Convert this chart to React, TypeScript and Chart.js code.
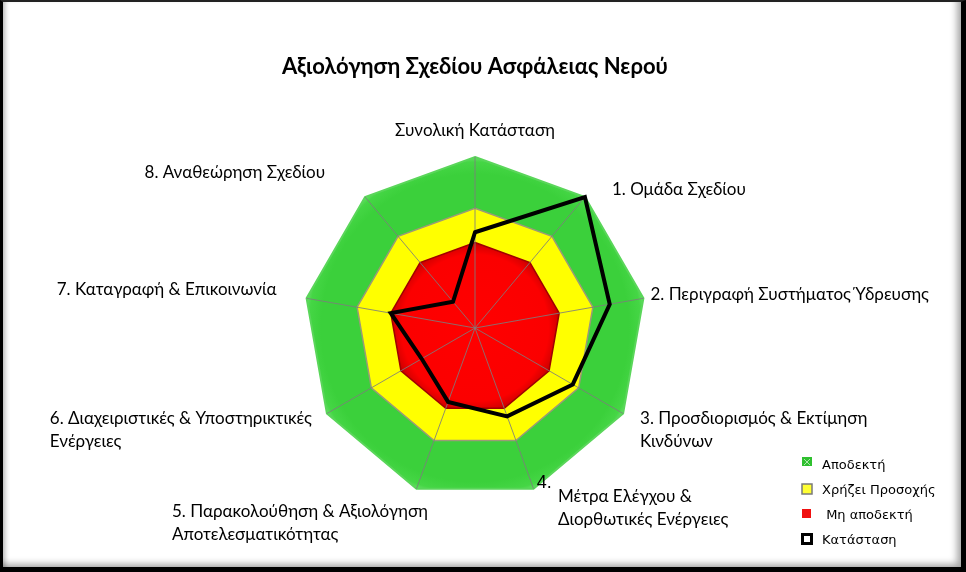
import React, { useEffect, useRef } from "react";
import { Chart, registerables } from "chart.js";

Chart.register(...registerables);

// ---------- data ----------
const chartTitle = "Αξιολόγηση Σχεδίου Ασφάλειας Νερού";
const axisLabels: string[][] = [
  ["Συνολική Κατάσταση"],
  ["1. Ομάδα Σχεδίου"],
  ["2. Περιγραφή Συστήματος Ύδρευσης"],
  ["3. Προσδιορισμός & Εκτίμηση", "Κινδύνων"],
  ["4. Μέτρα Ελέγχου &", "Διορθωτικές Ενέργειες"],
  ["5. Παρακολούθηση & Αξιολόγηση", "Αποτελεσματικότητας"],
  ["6. Διαχειριστικές & Υποστηρικτικές", "Ενέργειες"],
  ["7. Καταγραφή & Επικοινωνία"],
  ["8. Αναθεώρηση Σχεδίου"],
];
const seriesNames = ["Αποδεκτή", "Χρήζει Προσοχής", " Μη αποδεκτή", "Κατάσταση"];
const acceptable = [100, 100, 100, 100, 100, 100, 100, 100, 100];
const attention = [70, 70, 70, 70, 70, 70, 70, 70, 70];
const unacceptable = [50, 50, 50, 50, 50, 50, 50, 50, 50];
const status = [56, 100, 80, 66, 55, 46, 36, 50, 20];
const scaleMin = 0;
const scaleMax = 100;

// ---------- styling / layout (not data) ----------
const GREEN = "#3bd03b";
const YELLOW = "#ffff00";
const RED = "#ff0000";
const labelFont = "17px Lato, 'Open Sans', sans-serif";
const labelLineH = 22.5;
type Lay = { dx: number; dy: number; align: "center" | "left" | "right"; lead?: { dx: number; dy: number; font: string } };
const labelLayout: Lay[] = [
  { dx: 0, dy: -26, align: "center" },
  { dx: 27, dy: -7, align: "left" },
  { dx: 7, dy: -4, align: "left" },
  { dx: 17, dy: 5.5, align: "left" },
  { dx: 24.5, dy: 8, align: "left", lead: { dx: 3.2, dy: -6, font: "18px 'Liberation Sans', Arial, sans-serif" } },
  { dx: 11.5, dy: 23.3, align: "right" },
  { dx: -15, dy: 5.5, align: "right" },
  { dx: -30, dy: -9, align: "right" },
  { dx: -40, dy: -24, align: "right" },
];

function radialFill(stops: [number, string][], value: number, fallback: string) {
  return (c: any) => {
    const chart = c.chart;
    const scale = chart.scales && chart.scales.r;
    if (!chart.chartArea || !scale) return fallback;
    const R = scale.getDistanceFromCenterForValue(value);
    if (!(R > 0)) return fallback;
    const g = chart.ctx.createRadialGradient(scale.xCenter, scale.yCenter, 0, scale.xCenter, scale.yCenter, R);
    stops.forEach(([o, col]) => g.addColorStop(o, col));
    return g;
  };
}

const angleLinePlugin = {
  id: "angleLinesOver",
  beforeDatasetDraw(chart: any, args: any) {
    if (args.index !== 3) return;
    const scale = chart.scales.r;
    const ctx = chart.ctx;
    const R = scale.getDistanceFromCenterForValue(scaleMax);
    ctx.save();
    ctx.strokeStyle = "rgba(125,125,125,0.85)";
    ctx.lineWidth = 1;
    for (let i = 0; i < axisLabels.length; i++) {
      const p = scale.getPointPosition(i, R);
      ctx.beginPath();
      ctx.moveTo(scale.xCenter, scale.yCenter);
      ctx.lineTo(p.x, p.y);
      ctx.stroke();
    }
    ctx.restore();
  },
};

const axisLabelPlugin = {
  id: "axisLabelsOut",
  afterDatasetsDraw(chart: any) {
    const scale = chart.scales.r;
    const ctx = chart.ctx;
    const R = scale.getDistanceFromCenterForValue(scaleMax);
    ctx.save();
    ctx.fillStyle = "#000";
    ctx.textBaseline = "middle";
    axisLabels.forEach((lines, i) => {
      const p = scale.getPointPosition(i, R);
      const lay = labelLayout[i];
      const x = p.x + lay.dx;
      const y = p.y + lay.dy;
      ctx.font = labelFont;
      const rows = lines.slice();
      if (lay.lead) {
        const first = rows[0];
        const sp = first.indexOf(" ");
        const leadText = first.slice(0, sp);
        rows[0] = first.slice(sp + 1);
        ctx.font = lay.lead.font;
        ctx.textAlign = "left";
        ctx.fillText(leadText, p.x + lay.lead.dx, p.y + lay.lead.dy);
        ctx.font = labelFont;
      }
      if (lay.align === "center") {
        ctx.textAlign = "center";
        rows.forEach((t, k) => ctx.fillText(t, x, y + k * labelLineH));
      } else {
        ctx.textAlign = "left";
        const startX = lay.align === "right" ? x - ctx.measureText(rows[0]).width : x;
        rows.forEach((t, k) => ctx.fillText(t, startX, y + k * labelLineH));
      }
    });
    ctx.restore();
  },
};

const sideLegendPlugin = {
  id: "sideLegend",
  afterDraw(chart: any) {
    const ctx = chart.ctx;
    const area = chart.chartArea;
    const x0 = area.right + 10;
    const y0 = area.bottom - 36;
    const step = 25;
    ctx.save();
    ctx.font = "13px 'DejaVu Sans', Verdana, sans-serif";
    ctx.textBaseline = "middle";
    ctx.textAlign = "left";
    chart.data.datasets.forEach((ds: any, i: number) => {
      const y = y0 + i * step;
      const bx = x0, by = y - 5, bs = 10;
      if (i === 0) {
        ctx.fillStyle = "#2fc02f";
        ctx.fillRect(bx, by - 2, bs, bs - 1);
        ctx.strokeStyle = "rgba(255,255,255,0.6)";
        ctx.lineWidth = 1;
        ctx.beginPath();
        ctx.moveTo(bx + 2, by);
        ctx.lineTo(bx + bs - 2, by + bs - 4);
        ctx.moveTo(bx + bs - 2, by);
        ctx.lineTo(bx + 2, by + bs - 4);
        ctx.stroke();
      } else if (i === 1) {
        ctx.fillStyle = "#ffff33";
        ctx.fillRect(bx, by, bs, bs);
        ctx.strokeStyle = "#7a7a7a";
        ctx.lineWidth = 1.5;
        ctx.strokeRect(bx, by, bs, bs);
      } else if (i === 2) {
        ctx.fillStyle = "#f01010";
        ctx.fillRect(bx, by, bs - 1, bs - 1);
      } else {
        ctx.fillStyle = "#fff";
        ctx.fillRect(bx, by, bs, bs);
        ctx.strokeStyle = "#000";
        ctx.lineWidth = 3;
        ctx.strokeRect(bx + 0.5, by + 0.5, bs - 1, bs - 1);
      }
      ctx.fillStyle = "#000";
      ctx.fillText(ds.label, x0 + 20, y + 2);
    });
    ctx.restore();
  },
};

export default function App() {
  const ref = useRef<HTMLCanvasElement | null>(null);

  useEffect(() => {
    if (!ref.current) return;
    const chart = new Chart(ref.current, {
      type: "radar",
      data: {
        labels: axisLabels,
        datasets: [
          {
            label: seriesNames[0],
            data: acceptable,
            fill: true,
            backgroundColor: radialFill([[0, GREEN], [0.9, GREEN], [0.97, "#45d645"], [1, "#66e066"]], scaleMax, GREEN),
            borderColor: "#5ad65a",
            borderWidth: 2,
            pointRadius: 0,
            order: 4,
          },
          {
            label: seriesNames[1],
            data: attention,
            fill: true,
            backgroundColor: YELLOW,
            borderColor: "#9a9a78",
            borderWidth: 1.5,
            pointRadius: 0,
            order: 3,
          },
          {
            label: seriesNames[2],
            data: unacceptable,
            fill: true,
            backgroundColor: radialFill([[0, RED], [0.86, "#fb0000"], [0.95, "#dc0000"], [1, "#c00000"]], 50, RED),
            borderColor: "#a00000",
            borderWidth: 1.5,
            pointRadius: 0,
            order: 2,
          },
          {
            label: seriesNames[3],
            data: status,
            fill: false,
            backgroundColor: "rgba(0,0,0,0)",
            borderColor: "#000000",
            borderWidth: 4,
            borderJoinStyle: "miter",
            pointRadius: 0,
            tension: 0,
            order: 1,
          },
        ],
      },
      options: {
        responsive: false,
        animation: false,
        layout: { padding: { left: 158, right: 174, top: 0, bottom: 72 } },
        scales: {
          r: {
            min: scaleMin,
            max: scaleMax,
            ticks: { display: false },
            grid: { display: false },
            angleLines: { display: false },
            pointLabels: { display: false },
          },
        },
        plugins: {
          legend: { display: false },
          tooltip: { enabled: false },
          title: {
            display: true,
            text: chartTitle,
            color: "#000",
            font: { family: "Lato, 'Open Sans', sans-serif", size: 22, weight: "bold" },
            padding: { top: 54, bottom: 76.8 },
          },
        },
      } as any,
      plugins: [angleLinePlugin, axisLabelPlugin, sideLegendPlugin],
    });
    return () => chart.destroy();
  }, []);

  return (
    <div style={{ position: "absolute", left: 0, top: 0, width: 966, height: 572, background: "#fff" }}>
      <canvas ref={ref} width={966} height={572} style={{ display: "block", width: 966, height: 572 }} />
      <div
        style={{
          position: "absolute",
          left: 0,
          top: 0,
          width: 966,
          height: 572,
          boxSizing: "border-box",
          borderStyle: "solid",
          borderColor: "#222 #000 #000 #000",
          borderWidth: "2px 5px 5px 3px",
          boxShadow: "inset -7px -6px 7px -3px rgba(0,0,0,0.35), inset 5px 0px 5px -3px rgba(0,0,0,0.3)",
          pointerEvents: "none",
        }}
      />
    </div>
  );
}
